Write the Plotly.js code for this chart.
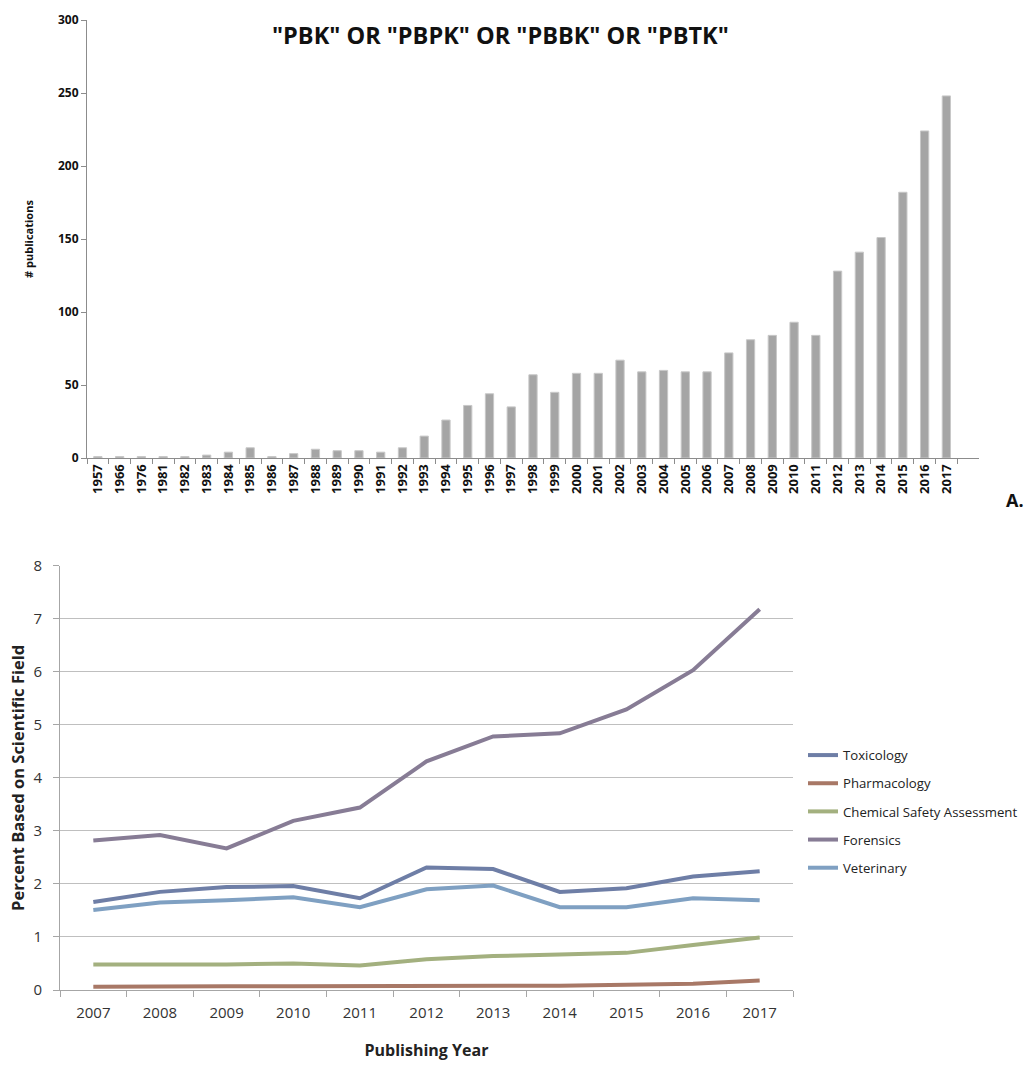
<!DOCTYPE html>
<html>
<head>
<meta charset="utf-8">
<script src="https://cdn.plot.ly/plotly-3.0.1.min.js"></script>
<style>html,body{margin:0;padding:0;background:#fff;}#chart{width:1026px;height:1068px;}</style>
</head>
<body>
<div id="chart"></div>
<script>
// ---- Panel A: publications per year ----
const pubYears = ["1957","1966","1976","1981","1982","1983","1984","1985","1986","1987","1988","1989","1990","1991","1992","1993","1994","1995","1996","1997","1998","1999","2000","2001","2002","2003","2004","2005","2006","2007","2008","2009","2010","2011","2012","2013","2014","2015","2016","2017"];
const pubCounts = [1,1,1,1,1,2,4,7,1,3,6,5,5,4,7,15,26,36,44,35,57,45,58,58,67,59,60,59,59,72,81,84,93,84,128,141,151,182,224,248];
const pubTicks = [0,50,100,150,200,250,300];

// ---- Panel B: percent by scientific field ----
const fieldYears = ["2007","2008","2009","2010","2011","2012","2013","2014","2015","2016","2017"];
const toxicology = [1.66,1.85,1.94,1.96,1.73,2.31,2.28,1.85,1.92,2.14,2.24];
const pharmacology = [0.06,0.07,0.07,0.07,0.07,0.08,0.08,0.08,0.10,0.12,0.18];
const chemicalSafety = [0.48,0.48,0.48,0.50,0.46,0.58,0.64,0.67,0.70,0.85,0.99];
const forensics = [2.82,2.92,2.67,3.19,3.44,4.31,4.78,4.84,5.29,6.03,7.18];
const veterinary = [1.51,1.65,1.69,1.75,1.56,1.90,1.97,1.56,1.56,1.73,1.69];
const fieldTicks = [0,1,2,3,4,5,6,7,8];

const W = 1026, H = 1068;
const fx = p => p / W;
const fy = p => 1 - p / H;
const FONT = "Open Sans";

const traces = [
  {type:"bar", x:pubYears, y:pubCounts, xaxis:"x", yaxis:"y", showlegend:false,
   marker:{color:"#a5a5a5", line:{color:"#c8c8c8", width:1}}, hoverinfo:"x+y"},
];
const series = [
  ["Toxicology", toxicology, "#6e7ea6"],
  ["Pharmacology", pharmacology, "#a87866"],
  ["Chemical Safety Assessment", chemicalSafety, "#a3b07f"],
  ["Forensics", forensics, "#877c95"],
  ["Veterinary", veterinary, "#7fa0c2"],
];
series.forEach((s,i) => traces.push({
  type:"scatter", mode:"lines", name:s[0], x:fieldYears, y:s[1],
  xaxis:"x2", yaxis:"y2", legendgroup:"g"+i,
  line:{color:s[2], width:4}
}));

const layout = {
  width: W, height: H,
  margin:{l:0,r:0,t:0,b:0},
  paper_bgcolor:"#fff", plot_bgcolor:"rgba(0,0,0,0)",
  font:{family:FONT, color:"#000"},
  bargap:0.62,
  showlegend:true,
  legend:{x:fx(803), y:fy(740), xanchor:"left", yanchor:"top",
    font:{family:FONT, size:13.2, color:"#222"}, traceorder:"grouped", tracegroupgap:8,
    itemwidth:30, bgcolor:"rgba(0,0,0,0)"},
  xaxis:{domain:[fx(87), fx(979)], type:"category", range:[-0.5, 40.5],
    showline:true, linecolor:"#8c8c8c", linewidth:1, ticks:"outside", tickson:"boundaries",
    ticklen:5, tickcolor:"#8c8c8c", tickangle:-90, showgrid:false, zeroline:false,
    tickfont:{family:FONT, size:13, color:"#111", weight:"bold"}, anchor:"y", fixedrange:true},
  yaxis:{domain:[fy(458), fy(20)], range:[0,300], tickvals:pubTicks,
    showline:true, linecolor:"#8c8c8c", linewidth:1, ticks:"outside", ticklen:5, tickcolor:"#8c8c8c",
    showgrid:false, zeroline:false, anchor:"x",
    tickfont:{family:FONT, size:12, color:"#111", weight:"bold"},
    title:{text:"# publications", font:{family:FONT, size:11, weight:"bold", color:"#111"}, standoff:22}},
  xaxis2:{domain:[fx(60), fx(793)], type:"category", range:[-0.5, 10.5],
    showline:true, linecolor:"#a6a6a6", linewidth:1, ticks:"outside", tickson:"boundaries",
    ticklen:6, tickcolor:"#a6a6a6", showgrid:false, zeroline:false, anchor:"y2",
    ticklabelstandoff:9,
    tickfont:{family:FONT, size:15, color:"#333"},
    title:{text:"Publishing Year", font:{family:FONT, size:16, weight:"bold", color:"#222"}, standoff:23}},
  yaxis2:{domain:[fy(990), fy(565.7)], range:[0,8], tickvals:fieldTicks,
    showline:true, linecolor:"#a6a6a6", linewidth:1, ticks:"outside", ticklen:6, tickcolor:"#a6a6a6",
    showgrid:true, gridcolor:"#bfbfbf", gridwidth:1, zeroline:false, anchor:"x2",
    ticklabelstandoff:8,
    tickfont:{family:FONT, size:15, color:"#333"},
    title:{text:"Percent Based on Scientific Field", font:{family:FONT, size:16.5, weight:"bold", color:"#222"}, standoff:4}},
  annotations:[
    {text:"\"PBK\" OR \"PBPK\" OR \"PBBK\" OR \"PBTK\"", xref:"paper", yref:"paper",
     x:fx(500), y:fy(35), xanchor:"center", yanchor:"middle", showarrow:false,
     font:{family:FONT, size:23.5, weight:"bold", color:"#111"}},
    {text:"A.", xref:"paper", yref:"paper", x:fx(1015), y:fy(500), xanchor:"center", yanchor:"middle",
     showarrow:false, font:{family:FONT, size:18, weight:"bold", color:"#111"}}
  ]
};

Plotly.newPlot("chart", traces, layout, {displayModeBar:false, staticPlot:true});
</script>
</body>
</html>
